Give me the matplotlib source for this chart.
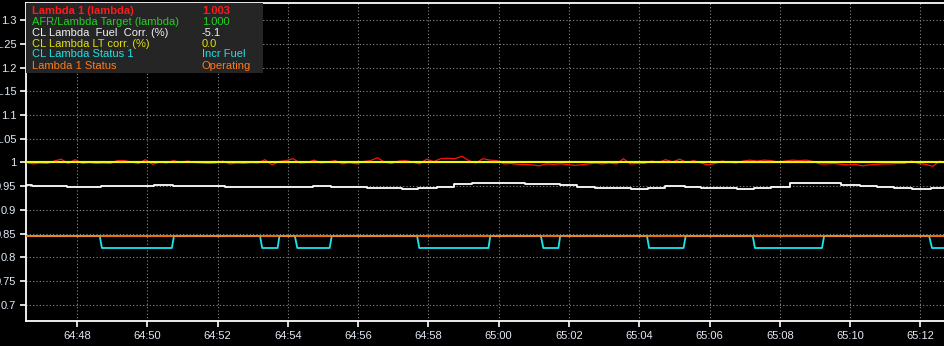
"""Lambda closed-loop log view: lambda, target, fuel corr and status traces."""

import numpy as np
import matplotlib
matplotlib.use("Agg")
import matplotlib.pyplot as plt
from matplotlib.patches import Rectangle
from matplotlib.ticker import MultipleLocator, FuncFormatter

plt.rcParams["font.family"] = ["Liberation Sans", "DejaVu Sans"]

# time is in seconds of the log (64:00 = 3840 s)
T_START = 3886.55
T_END = 3912.70
RED_DT = 0.2

# Lambda 1 (lambda), sampled every RED_DT seconds from T_START
lambda1 = [
    1.000, 0.997, 0.999, 0.998, 1.003, 1.007, 0.998, 1.006, 0.998, 1.000,
    0.998, 0.999, 0.998, 1.004, 1.004, 1.001, 0.998, 1.006, 0.996, 1.001,
    0.999, 1.004, 1.000, 1.003, 1.000, 0.999, 0.998, 0.999, 1.003, 0.997,
    0.999, 0.998, 1.000, 0.999, 1.006, 0.995, 1.002, 1.004, 1.008, 0.999,
    1.000, 1.005, 0.999,
    1.001, 1.004, 0.997, 1.000, 0.997, 1.002, 1.004, 1.010, 1.001, 0.998,
    1.003, 1.004, 1.001, 0.997, 1.007, 1.002, 1.008, 1.009, 1.008, 1.013,
    1.004, 0.999, 1.008, 1.005, 1.004, 0.997, 0.998, 0.996, 0.996, 0.995,
    0.993, 0.997, 0.996, 0.997, 0.996, 0.994, 0.995, 0.997, 0.999, 0.997,
    0.999, 0.997, 1.008,
    0.997, 0.998, 0.998, 1.003, 1.000, 1.006, 1.001, 1.007, 1.000, 1.004,
    0.999, 0.995, 0.998, 1.003, 1.001, 0.999, 1.003, 1.005, 1.003, 1.005,
    1.004, 1.001, 1.003, 1.005, 1.004, 1.005, 1.002, 0.997, 0.997, 0.998,
    0.996, 0.995, 0.996, 0.993, 0.995, 0.996, 0.997, 0.997, 0.998, 0.998,
    1.003, 0.998, 0.996, 0.992, 1.003, 0.998,
]

afr_target = 1.000
lt_corr = 1.000       # 0.0 % drawn on the lambda scale
status_level = 0.845  # "Operating"

# CL Lambda Fuel Corr. (drawn as 1 + corr), step changes
fuel_t = [3886.55, 3886.72, 3887.72, 3888.68, 3890.19, 3890.73, 3892.21,
          3894.71, 3895.23, 3896.25, 3897.25, 3897.70, 3898.24, 3898.73,
          3899.24, 3900.75, 3901.74, 3902.23, 3902.74, 3903.76, 3904.25,
          3904.73, 3905.30, 3905.75, 3906.78, 3907.26, 3907.74, 3908.29,
          3909.74, 3910.28, 3910.76, 3911.24, 3911.76, 3912.30, 3912.70]
fuel_v = [0.9526, 0.9500, 0.9478, 0.9500, 0.9526, 0.9500, 0.9478,
          0.9500, 0.9478, 0.9457, 0.9436, 0.9457, 0.9478, 0.9541,
          0.9562, 0.9541, 0.9520, 0.9478, 0.9457, 0.9436, 0.9457,
          0.9500, 0.9478, 0.9457, 0.9436, 0.9457, 0.9478, 0.9562,
          0.9520, 0.9500, 0.9478, 0.9457, 0.9436, 0.9457, 0.9457]

# CL Lambda Status 1 (high = closed loop, low = Incr Fuel)
status1_t = [3886.55, 3888.65, 3888.71, 3890.70, 3890.76, 3893.21, 3893.27,
             3893.71, 3893.76, 3894.20, 3894.27, 3895.19, 3895.25, 3897.68,
             3897.74, 3899.71, 3899.76, 3901.20, 3901.27, 3901.70, 3901.75,
             3904.22, 3904.28, 3905.26, 3905.32, 3907.23, 3907.29, 3909.20,
             3909.26, 3912.25, 3912.33, 3912.70]
status1_v = [0.845, 0.845, 0.820, 0.820, 0.845, 0.845, 0.820,
             0.820, 0.845, 0.845, 0.820, 0.820, 0.845, 0.845,
             0.820, 0.820, 0.845, 0.845, 0.820, 0.820, 0.845,
             0.845, 0.820, 0.820, 0.845, 0.845, 0.820, 0.820,
             0.845, 0.845, 0.820, 0.820]

legend_rows = [
    ("Lambda 1 (lambda)", "1.003", "#ff1a1a", "bold"),
    ("AFR/Lambda Target (lambda)", "1.000", "#22d022", "normal"),
    ("CL Lambda  Fuel  Corr. (%)", "-5.1", "#f2f2f2", "normal"),
    ("CL Lambda LT corr. (%)", "0.0", "#e0e010", "normal"),
    ("CL Lambda Status 1", "Incr Fuel", "#20e0e8", "normal"),
    ("Lambda 1 Status", "Operating", "#ff7a1a", "normal"),
]

fig = plt.figure(figsize=(9.45, 3.46), dpi=100, facecolor="black")
ax = fig.add_axes([26 / 945, 25 / 346, 919 / 945, 318 / 346], facecolor="black")

red_t = T_START + RED_DT * np.arange(len(lambda1))
ax.plot(red_t, lambda1, color="#ff1010", lw=0.9, zorder=3)
ax.plot(fuel_t, fuel_v, color="white", lw=1.3, drawstyle="steps-post", zorder=3)
ax.plot(status1_t, status1_v, color="#19e6f0", lw=1.3, zorder=3)
ax.axhline(status_level, color="#ff7f0e", lw=1.3, zorder=4)
ax.axhline(afr_target, color="#22d022", lw=1.5, zorder=4)
ax.axhline(lt_corr, color="#f5f500", lw=1.5, zorder=5)

ax.set_xlim(T_START, T_END)
ax.set_ylim(0.6663, 1.3358)

ax.xaxis.set_major_locator(MultipleLocator(2))
ax.xaxis.set_major_formatter(FuncFormatter(lambda s, _: f"{int(s // 60)}:{int(round(s % 60)):02d}"))
ax.yaxis.set_major_locator(MultipleLocator(0.05))
ax.yaxis.set_major_formatter(FuncFormatter(lambda v, _: f"{v:g}"))

ax.grid(True, color="#8a8a8a", lw=0.8, linestyle=(0, (1, 2)))
ax.tick_params(colors="white", labelcolor="#e2eaf6", labelsize=8, length=4, width=1.2, pad=3)
for side in ("left", "bottom", "top"):
    ax.spines[side].set_color("white")
    ax.spines[side].set_linewidth(1.3)
ax.spines["right"].set_visible(False)

# value box in the top-left corner
ax.add_patch(Rectangle((0, 0.78), 0.258, 0.22, transform=ax.transAxes,
                       facecolor="#252525", edgecolor="none", zorder=6))
row_y = [0.975, 0.940, 0.905, 0.872, 0.839, 0.802]
for (name, val, col, weight), y in zip(legend_rows, row_y):
    ax.text(0.0065, y, name, color=col, fontsize=8, fontweight=weight,
            va="center", transform=ax.transAxes, zorder=7)
    ax.text(0.1915, y, val, color=col, fontsize=8, fontweight=weight,
            va="center", transform=ax.transAxes, zorder=7)

fig.savefig("out.png", dpi=100, facecolor="black")
